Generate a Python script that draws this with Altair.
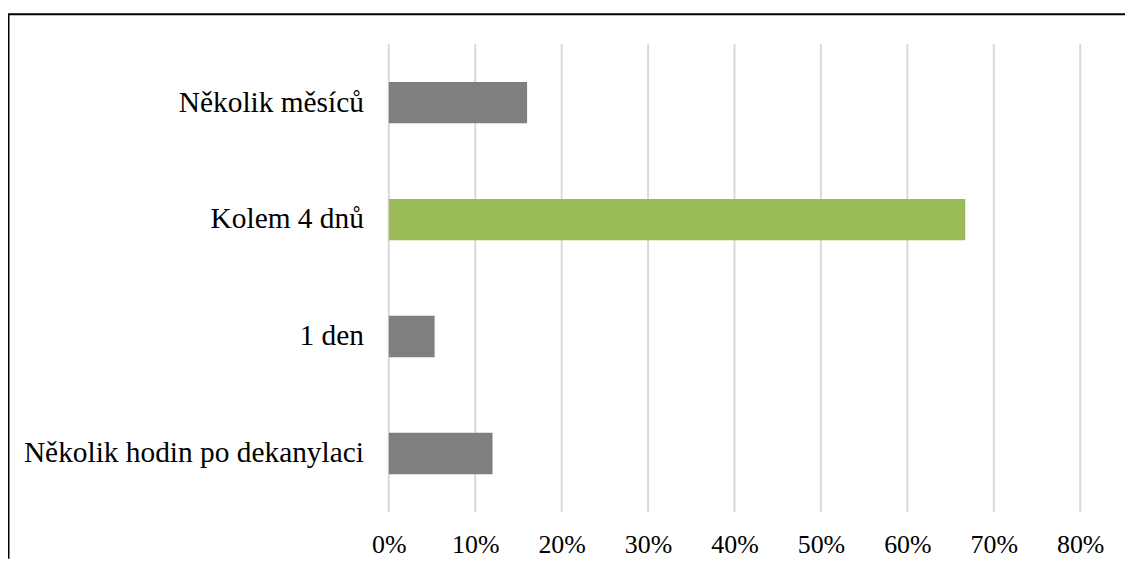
import altair as alt
import pandas as pd

# --- data ---
categories = ["Několik měsíců", "Kolem 4 dnů\u00a0", "1 den\u00a0", "Několik hodin po dekanylaci"]
values = [0.16, 0.667, 0.053, 0.12]
tick_values = [0, 0.1, 0.2, 0.3, 0.4, 0.5, 0.6, 0.7, 0.8]

# --- style ---
bar_colors = ["#7f7f7f", "#9bbb59", "#7f7f7f", "#7f7f7f"]
FONT = "Liberation Serif"
W, H = 1122, 505
PAD_BOTTOM = 47
X_RANGE = [382.5, 1077]
Y_RANGE = [35, 505]

df = pd.DataFrame({"cat": categories, "val": values})
ticks_df = pd.DataFrame({"t": tick_values})
one = pd.DataFrame({"a": [0]})

x_scale = alt.Scale(domain=[0, 0.8], range=X_RANGE, nice=False, zero=True)
y_scale = alt.Scale(domain=categories, range=Y_RANGE, paddingInner=0.647, paddingOuter=0.3235)

x_axis = alt.Axis(
    format=".0%", values=tick_values, title=None, domain=False, ticks=False,
    tickSize=0, grid=False, labelPadding=33, labelFont=FONT, labelFontSize=26,
    labelColor="black", labelBaseline="middle", labelAlign="center",
    labelFlush=False, labelOverlap=False,
)

grid = alt.Chart(ticks_df).mark_rule(color="#d9d9d9", strokeWidth=2).encode(
    x=alt.X("t:Q", scale=x_scale, axis=x_axis),
    y=alt.value(Y_RANGE[0]),
    y2=alt.value(Y_RANGE[1]),
)

bars = alt.Chart(df).mark_bar().encode(
    x=alt.X("val:Q", scale=x_scale, axis=x_axis),
    y=alt.Y(
        "cat:N",
        sort=categories,
        scale=y_scale,
        axis=alt.Axis(
            title=None, domain=False, ticks=False, tickSize=0, labelPadding=0,
            offset=-357, labelFont=FONT, labelFontSize=29.5, labelColor="black",
            labelLimit=600, grid=False,
        ),
    ),
    color=alt.Color("cat:N", scale=alt.Scale(domain=categories, range=bar_colors), legend=None),
)

frame_top = alt.Chart(one).mark_rule(color="black", strokeWidth=2).encode(
    x=alt.value(0), x2=alt.value(W), y=alt.value(5)
)
frame_left = alt.Chart(one).mark_rule(color="black", strokeWidth=2).encode(
    x=alt.value(0.5), y=alt.value(5), y2=alt.value(H + PAD_BOTTOM)
)

chart = (
    alt.layer(grid, bars, frame_top, frame_left)
    .properties(
        width=W, height=H,
        padding={"left": 0, "top": 0, "right": 0, "bottom": PAD_BOTTOM},
        autosize=alt.AutoSizeParams(type="none"),
        background="white",
    )
    .configure_view(stroke=None)
)

chart.save("out.html", embed_options={"renderer": "svg", "actions": False})
